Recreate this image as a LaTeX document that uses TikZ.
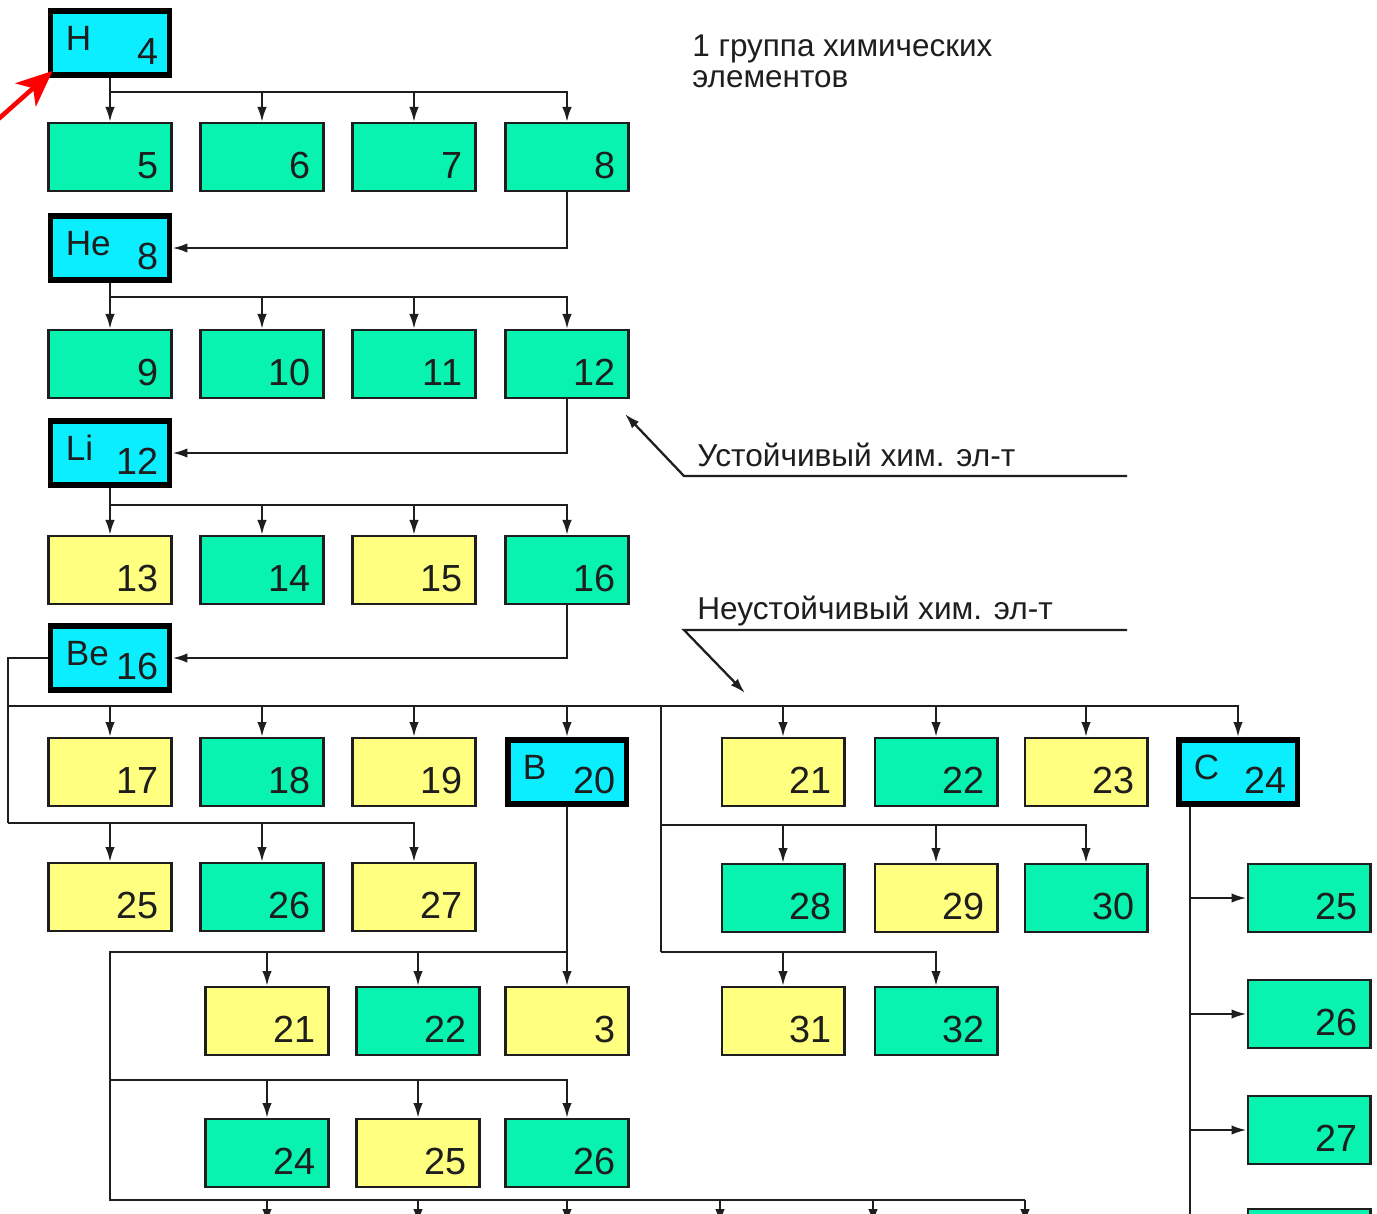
\documentclass[tikz,border=0pt]{standalone}
\usepackage{fontspec}
\setmainfont{Liberation Sans}
\usetikzlibrary{arrows.meta,calc}

\definecolor{gfill}{RGB}{8,242,176}
\definecolor{cfill}{RGB}{10,238,255}
\definecolor{yfill}{RGB}{255,255,128}
\definecolor{ink}{RGB}{30,30,30}

\tikzset{
  box/.style={rectangle, draw=ink, line width=1.3pt, minimum width=2.455cm, minimum height=1.355cm, inner sep=0pt},
  gbox/.style={box, fill=gfill},
  ybox/.style={box, fill=yfill},
  ebox/.style={rectangle, draw=black, line width=3.4pt, fill=cfill, minimum width=2.38cm, minimum height=1.28cm, inner sep=0pt},
  num/.style={font=\fontsize{21.5}{24}\selectfont, text=ink, inner sep=0pt},
  sym/.style={font=\fontsize{20}{24}\selectfont, text=ink, inner sep=0pt},
  conn/.style={draw=ink, line width=1.3pt},
  arr/.style={conn, -{Latex[length=0.3cm,width=0.19cm]}},
  lbl/.style={font=\fontsize{18}{20}\selectfont, text=ink, inner sep=0pt, anchor=base west},
}

\newcommand\mkbox[5]{%
  \node[#1] (#2) at (#3,#4) {};
  \node[num, anchor=base east] at ([xshift=-0.28cm,yshift=0.28cm]#2.south east) {#5};}
\newcommand\mkel[5]{%
  \node[ebox] (#1) at (#2,#3) {};
  \node[num, anchor=base east] at ([xshift=-0.28cm,yshift=0.27cm]#1.south east) {#4};
  \node[sym, anchor=base west] at ([xshift=0.36cm,yshift=-0.84cm]#1.north west) {#5};}

\begin{document}
\begin{tikzpicture}[x=0.02cm,y=-0.02cm]
\clip (0,0) rectangle (1377,1214);
\fill[white] (0,0) rectangle (1377,1214);

% ---- boxes ----
\mkel{H}{110}{43}{4}{H}
\mkbox{gbox}{a5}{110}{157}{5}
\mkbox{gbox}{a6}{262}{157}{6}
\mkbox{gbox}{a7}{414}{157}{7}
\mkbox{gbox}{a8}{567}{157}{8}

\mkel{He}{110}{248}{8}{He}
\mkbox{gbox}{a9}{110}{364}{9}
\mkbox{gbox}{a10}{262}{364}{10}
\mkbox{gbox}{a11}{414}{364}{11}
\mkbox{gbox}{a12}{567}{364}{12}

\mkel{Li}{110}{453}{12}{Li}
\mkbox{ybox}{a13}{110}{570}{13}
\mkbox{gbox}{a14}{262}{570}{14}
\mkbox{ybox}{a15}{414}{570}{15}
\mkbox{gbox}{a16}{567}{570}{16}

\mkel{Be}{110}{658}{16}{Be}
\mkbox{ybox}{a17}{110}{772}{17}
\mkbox{gbox}{a18}{262}{772}{18}
\mkbox{ybox}{a19}{414}{772}{19}
\mkel{B}{567}{772}{20}{B}

\mkbox{ybox}{a25}{110}{897}{25}
\mkbox{gbox}{a26}{262}{897}{26}
\mkbox{ybox}{a27}{414}{897}{27}

\mkbox{ybox}{r21}{783}{772}{21}
\mkbox{gbox}{r22}{936}{772}{22}
\mkbox{ybox}{r23}{1086}{772}{23}
\mkel{C}{1238}{772}{24}{C}

\mkbox{gbox}{r28}{783}{898}{28}
\mkbox{ybox}{r29}{936}{898}{29}
\mkbox{gbox}{r30}{1086}{898}{30}

\mkbox{ybox}{r31}{783}{1021}{31}
\mkbox{gbox}{r32}{936}{1021}{32}

\mkbox{ybox}{l21}{267}{1021}{21}
\mkbox{gbox}{l22}{418}{1021}{22}
\mkbox{ybox}{l3}{567}{1021}{3}

\mkbox{gbox}{l24}{267}{1153}{24}
\mkbox{ybox}{l25}{418}{1153}{25}
\mkbox{gbox}{l26}{567}{1153}{26}

\mkbox{gbox}{c25}{1309}{898}{25}
\mkbox{gbox}{c26}{1309}{1014}{26}
\mkbox{gbox}{c27}{1309}{1130}{27}
\node[gbox] (c28) at (1309,1243) {};

% ---- connectors: H ----
\coordinate (t1) at (567,92);
\draw[arr] (H.south) -- (a5.north);
\draw[arr] (H.south |- t1) -| (a8.north);
\draw[arr] (a6.north |- t1) -- (a6.north);
\draw[arr] (a7.north |- t1) -- (a7.north);
\draw[arr] (a8.south) |- (He.east);

% He
\coordinate (t2) at (567,297);
\draw[arr] (He.south) -- (a9.north);
\draw[arr] (He.south |- t2) -| (a12.north);
\draw[arr] (a10.north |- t2) -- (a10.north);
\draw[arr] (a11.north |- t2) -- (a11.north);
\draw[arr] (a12.south) |- (Li.east);

% Li
\coordinate (t3) at (567,505);
\draw[arr] (Li.south) -- (a13.north);
\draw[arr] (Li.south |- t3) -| (a16.north);
\draw[arr] (a14.north |- t3) -- (a14.north);
\draw[arr] (a15.north |- t3) -- (a15.north);
\draw[arr] (a16.south) |- (Be.east);

% Be
\coordinate (bT) at (8,706);
\coordinate (bL) at (8,823);
\draw[conn] (Be.west) -| (bL);
\draw[arr] (bL) -| (a27.north);
\draw[arr] (a25.north |- bL) -- (a25.north);
\draw[arr] (a26.north |- bL) -- (a26.north);
\draw[arr] (bT) -| (C.north);
\foreach \n in {a17,a18,a19,B,r21,r22,r23}
  \draw[arr] (\n.north |- bT) -- (\n.north);

% right block bus
\coordinate (vR) at (661,706);
\coordinate (vR2) at (661,825);
\coordinate (vR3) at (661,952);
\draw[conn] (vR) -- (vR3);
\draw[arr] (vR2) -| (r30.north);
\draw[arr] (r28.north |- vR2) -- (r28.north);
\draw[arr] (r29.north |- vR2) -- (r29.north);
\draw[arr] (vR3) -| (r32.north);
\draw[arr] (r31.north |- vR3) -- (r31.north);

% B
\coordinate (lb1) at (110,952);
\coordinate (lb2) at (110,1080);
\coordinate (lb3) at (110,1200);
\coordinate (lb4) at (1025,1200);
\draw[arr] (B.south) -- (l3.north);
\draw[conn] (B.south |- lb1) -- (lb1) -- (lb3) -- (lb4);
\draw[arr] (l21.north |- lb1) -- (l21.north);
\draw[arr] (l22.north |- lb1) -- (l22.north);
\draw[arr] (lb2) -| (l26.north);
\draw[arr] (l24.north |- lb2) -- (l24.north);
\draw[arr] (l25.north |- lb2) -- (l25.north);
\foreach \xx in {267,418,567,720,873,1025}{
  \coordinate (dn\xx) at (\xx,1224);
  \draw[arr] (\xx,1200) -- (dn\xx);
}

% C
\coordinate (cv) at (1190,807);
\coordinate (cvb) at (1190,1230);
\draw[conn] (cv) -- (cvb);
\draw[arr] (c25.west -| cv) -- (c25.west);
\draw[arr] (c26.west -| cv) -- (c26.west);
\draw[arr] (c27.west -| cv) -- (c27.west);

% ---- annotations ----
\node[font=\fontsize{17.9}{17.6}\selectfont, text=ink, inner sep=0pt, anchor=north west, align=left] (title) at (692,35) {1 группа химических\\элементов};

\node[lbl] (u1) at (697,466) {Устойчивый хим. эл-т};
\coordinate (u1r) at (1127,476);
\coordinate (u1l) at (684,476);
\coordinate (u1t) at (625,414);
\draw[arr] (u1r) -- (u1l) -- (u1t);

\node[lbl] (u2) at (697,619) {Неустойчивый хим. эл-т};
\coordinate (u2r) at (1127,630);
\coordinate (u2l) at (684,630);
\coordinate (u2t) at (745,693);
\draw[arr] (u2r) -- (u2l) -- (u2t);

% red pointer
\coordinate (rs) at (-14,130);
\draw[red, line width=2.6pt, -{Stealth[length=0.72cm,width=0.62cm,inset=0.2cm]}] (rs) -- ($(H.south west)+(5,-7)$);
\end{tikzpicture}
\end{document}
